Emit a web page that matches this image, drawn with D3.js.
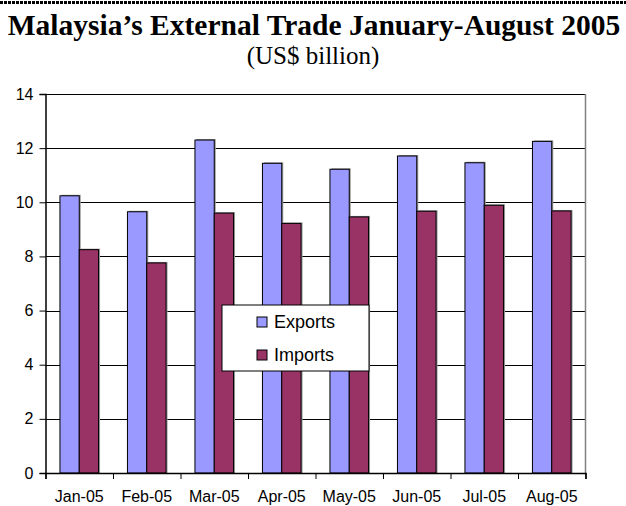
<!DOCTYPE html>
<html>
  <head>
    <meta charset="utf-8" />
    <title>Malaysia External Trade</title>
    <script src="https://d3js.org/d3.v7.min.js"></script>
    <style>
        body {
            margin:0;
            background:#fff;
        }
    </style>
  </head>
  <body>
    <svg id="viz"></svg>
    <script>

        // data
        var months = ["Jan-05", "Feb-05", "Mar-05", "Apr-05", "May-05", "Jun-05", "Jul-05", "Aug-05"];
        var exportsVals = [10.24, 9.65, 12.30, 11.44, 11.22, 11.71, 11.46, 12.25];
        var importsVals = [8.25, 7.76, 9.60, 9.22, 9.46, 9.67, 9.89, 9.68];
        var seriesNames = ["Exports", "Imports"];
        var yTicks = [0, 2, 4, 6, 8, 10, 12, 14];

        var width = 626, height = 506;
        var colors = {"Exports": "#9999FF", "Imports": "#993366"};

        var svg = d3.select("#viz")
            .attr("width", width)
            .attr("height", height);

        // dotted rule at the very top
        svg.append("line")
            .attr("x1", 0).attr("x2", width)
            .attr("y1", 2.5).attr("y2", 2.5)
            .attr("stroke", "#000")
            .attr("stroke-width", 3)
            .attr("stroke-dasharray", "3,1");

        svg.append("text")
            .attr("x", 314).attr("y", 35)
            .attr("text-anchor", "middle")
            .style("font-family", "'Liberation Serif', 'Times New Roman', serif")
            .style("font-weight", "bold")
            .style("font-size", "29.5px")
            .text("Malaysia\u2019s External Trade January-August 2005");

        svg.append("text")
            .attr("x", 313).attr("y", 64)
            .attr("text-anchor", "middle")
            .style("font-family", "'Liberation Serif', 'Times New Roman', serif")
            .style("font-size", "25px")
            .text("(US$ billion)");

        var margin = {left: 45.5, right: 585.5, top: 94, bottom: 473};

        var x = d3.scaleBand()
            .domain(months)
            .range([margin.left, margin.right])
            .paddingInner(0)
            .paddingOuter(0);

        var y = d3.scaleLinear()
            .domain([0, 14])
            .range([margin.bottom, margin.top]);

        var rows = months.map(function (m, i) {
            return {month: m, Exports: exportsVals[i], Imports: importsVals[i]};
        });

        var barW = 19.3;

        var xSub = d3.scaleBand()
            .domain(seriesNames)
            .range([0, barW * 2]);

        // gridlines
        svg.append("g").selectAll("line")
            .data(yTicks.slice(1))
            .enter().append("line")
            .attr("x1", margin.left).attr("x2", margin.right)
            .attr("y1", function (d) { return Math.round(y(d)) + 0.5; })
            .attr("y2", function (d) { return Math.round(y(d)) + 0.5; })
            .attr("stroke", "#000")
            .attr("stroke-width", 1);

        // right border of the plot area
        svg.append("line")
            .attr("x1", margin.right).attr("x2", margin.right)
            .attr("y1", margin.top).attr("y2", margin.bottom)
            .attr("stroke", "#808080")
            .attr("stroke-width", 1.5);

        var groups = svg.append("g").selectAll("g")
            .data(rows)
            .enter().append("g")
            .attr("transform", function (d) {
                return "translate(" + (x(d.month) + (x.bandwidth() - barW * 2) / 2) + ",0)";
            });

        var bars = groups.selectAll("g")
            .data(function (d) {
                return seriesNames.map(function (s) { return {key: s, value: d[s]}; });
            })
            .enter().append("g");

        // soft shadow
        bars.append("rect")
            .attr("x", function (d) { return xSub(d.key) + 1.5; })
            .attr("y", function (d) { return y(d.value) - 1; })
            .attr("width", xSub.bandwidth())
            .attr("height", function (d) { return y(0) - y(d.value) + 1; })
            .attr("fill", "#999");

        bars.append("rect")
            .attr("x", function (d) { return xSub(d.key); })
            .attr("y", function (d) { return y(d.value); })
            .attr("width", xSub.bandwidth())
            .attr("height", function (d) { return y(0) - y(d.value); })
            .attr("fill", function (d) { return colors[d.key]; })
            .attr("stroke", "#000")
            .attr("stroke-width", 1);

        // axes
        var yAxis = d3.axisLeft(y)
            .tickValues(yTicks)
            .tickSize(6)
            .tickPadding(6);

        var gy = svg.append("g")
            .attr("transform", "translate(" + margin.left + ",0)")
            .call(yAxis);
        gy.select(".domain").attr("stroke", "#000").attr("stroke-width", 1.5);
        gy.selectAll("text")
            .style("font-family", "'Liberation Sans', Arial, sans-serif")
            .style("font-size", "16px")
            .attr("fill", "#000");

        var xAxis = d3.axisBottom(d3.scaleLinear().domain([0, months.length]).range([margin.left, margin.right]))
            .tickValues(d3.range(months.length + 1))
            .tickFormat("")
            .tickSize(6);

        var gx = svg.append("g")
            .attr("transform", "translate(0," + margin.bottom + ")")
            .call(xAxis);
        gx.select(".domain").attr("stroke", "#000").attr("stroke-width", 1.5);

        svg.append("g").selectAll("text")
            .data(months)
            .enter().append("text")
            .attr("x", function (d) { return x(d) + x.bandwidth() / 2; })
            .attr("y", 502)
            .attr("text-anchor", "middle")
            .style("font-family", "'Liberation Sans', Arial, sans-serif")
            .style("font-size", "16px")
            .text(function (d) { return d; });

        // legend
        var legend = svg.append("g").attr("transform", "translate(222,305)");
        legend.append("rect")
            .attr("width", 147).attr("height", 66)
            .attr("fill", "#fff")
            .attr("stroke", "#000")
            .attr("stroke-width", 1);

        var items = legend.selectAll("g.item")
            .data(seriesNames)
            .enter().append("g")
            .attr("class", "item")
            .attr("transform", function (d, i) { return "translate(35," + (12 + i * 33) + ")"; });

        items.append("rect")
            .attr("width", 10).attr("height", 10)
            .attr("fill", function (d) { return colors[d]; })
            .attr("stroke", "#000");

        items.append("text")
            .attr("x", 17).attr("y", 11)
            .style("font-family", "'Liberation Sans', Arial, sans-serif")
            .style("font-size", "18px")
            .text(function (d) { return d; });

    </script>
  </body>
</html>
